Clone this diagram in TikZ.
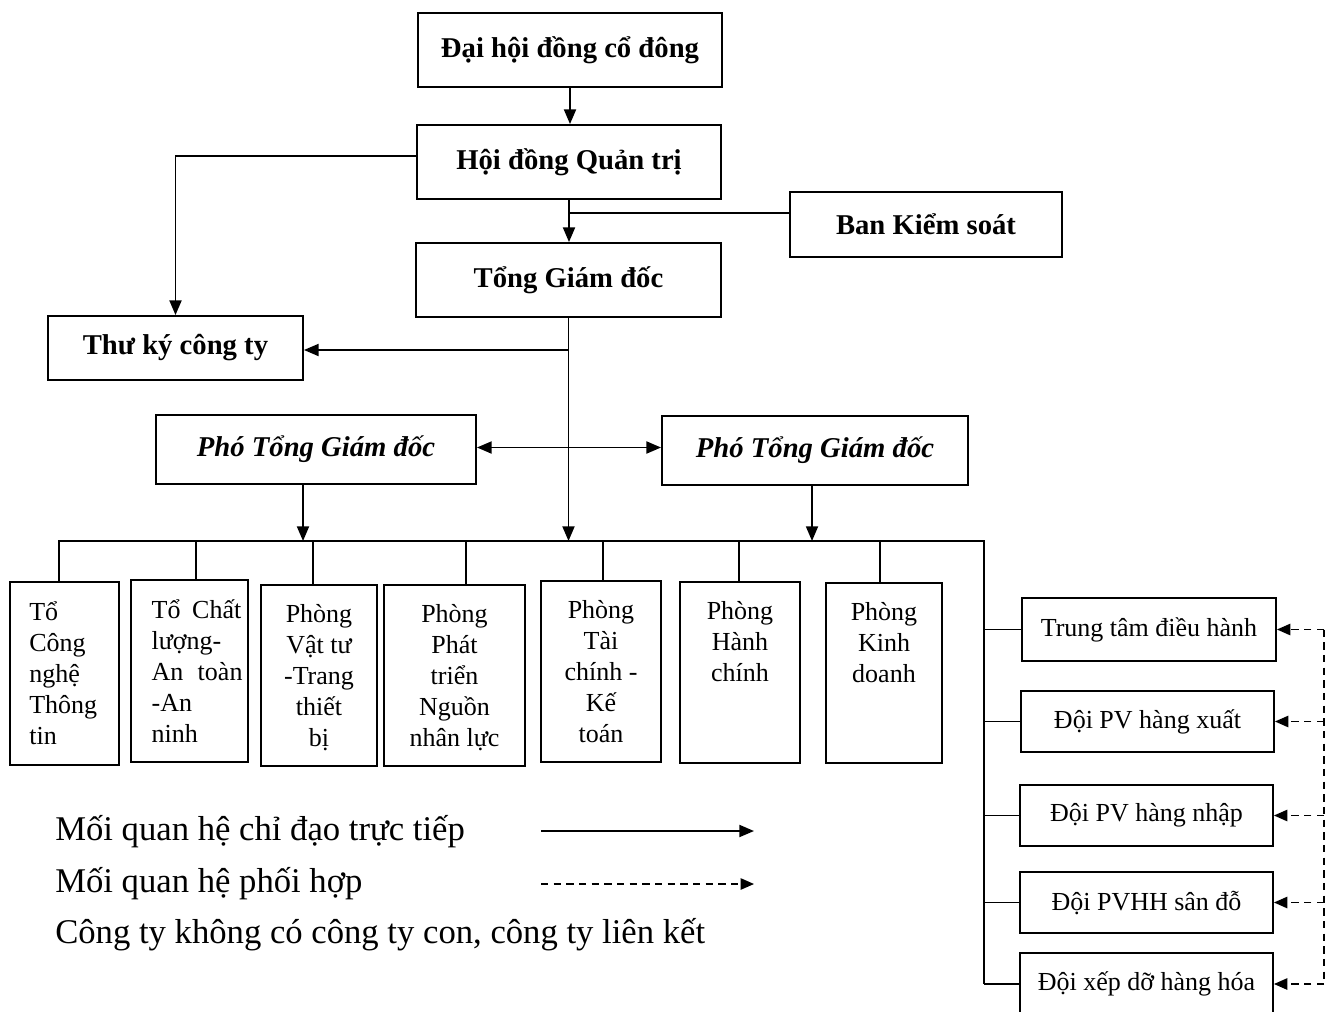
\documentclass[tikz,border=0pt]{standalone}
\usepackage{fontspec}
\setmainfont{Liberation Serif}
\usetikzlibrary{arrows.meta,calc}
\begin{document}
\begin{tikzpicture}[x=0.75pt,y=-0.75pt,
  sz/.style 2 args={minimum width=#1*0.75pt, minimum height=#2*0.75pt},
  box/.style={draw, line width=1.4pt, inner sep=0pt, align=center},
  bold/.style={font=\fontsize{21.5}{26}\selectfont\bfseries},
  bolditalic/.style={font=\fontsize{21.5}{26}\selectfont\bfseries\itshape},
  dtxt/.style={font=\fontsize{19.5}{23.25}\selectfont, inner sep=0pt},
  dlbl/.style={dtxt, align=center, anchor=north, yshift=-15pt},
  legend/.style={font=\fontsize{26}{30}\selectfont, inner sep=0pt, anchor=west},
  conn/.style={line width=1.4pt},
  arr/.style={conn, -{Triangle[length=11pt,width=9pt]}},
  darr/.style={conn, {Triangle[length=11pt,width=9pt]}-{Triangle[length=11pt,width=9pt]}},
  dsh/.style={line width=1.1pt, dash pattern=on 5.5pt off 4pt},
  dsharr/.style={dsh, -{Triangle[length=10pt,width=8.5pt]}}
]
\useasboundingbox (0,0) rectangle (1333,1012);

% top hierarchy
\node[box,bold,sz={304}{74}] (dh) at (570,50) {Đại hội đồng cổ đông};
\node[box,bold,sz={304}{74}] (hd) at (569,162) {Hội đồng Quản trị};
\node[box,bold,sz={272}{65}] (bks) at (926,224.5) {Ban Kiểm soát};
\node[box,bold,sz={305}{74}] (tgd) at (568.5,280) {Tổng Giám đốc};
\node[box,bold,sz={255}{64}] (tk) at (175.5,348) {Thư ký công ty};
\node[box,bolditalic,sz={320}{69}] (pl) at (316,449.5) {Phó Tổng Giám đốc};
\node[box,bolditalic,sz={306}{69}] (pr) at (815,450.5) {Phó Tổng Giám đốc};

% departments
\node[box,sz={109}{183},label={[dtxt,align=left,anchor=north west,xshift=15pt,yshift=-15pt]north west:Tổ\\Công\\nghệ\\Thông\\tin}] (b1) at (64.5,673.5) {};
\node[box,sz={117}{182},label={[dtxt,align=left,anchor=north west,xshift=16pt,yshift=-15pt]north west:Tổ\hspace{0.45em}Chất\\lượng-\\An\hspace{0.55em}toàn\\-An\\ninh}] (b2) at (189.5,671) {};
\node[box,sz={116}{181},label={[dlbl]north:Phòng\\Vật tư\\-Trang\\thiết\\bị}] (b3) at (319,675.5) {};
\node[box,sz={141}{181},label={[dlbl]north:Phòng\\Phát\\triển\\Nguồn\\nhân lực}] (b4) at (454.5,675.5) {};
\node[box,sz={120}{181},label={[dlbl]north:Phòng\\Tài\\chính -\\Kế\\toán}] (b5) at (601,671.5) {};
\node[box,sz={120}{181},label={[dlbl]north:Phòng\\Hành\\chính}] (b6) at (740,672.5) {};
\node[box,sz={116}{180},label={[dlbl]north:Phòng\\Kinh\\doanh}] (b7) at (884,673) {};

% right units
\node[box,dtxt,sz={254}{63}] (r1) at (1149,629.5) {Trung tâm điều hành};
\node[box,dtxt,sz={253}{61}] (r2) at (1147.5,721.5) {Đội PV hàng xuất};
\node[box,dtxt,sz={253}{61}] (r3) at (1146.5,815.5) {Đội PV hàng nhập};
\node[box,dtxt,sz={253}{61}] (r4) at (1146.5,902.5) {Đội PVHH sân đỗ};
\node[box,dtxt,sz={253}{62}] (r5) at (1146.5,984) {Đội xếp dỡ hàng hóa};

% coordinates
\coordinate (busL) at (59,541);
\coordinate (busR) at (984,541);
\coordinate (jb) at (569,213);
\coordinate (dv) at (1324,0);

% connectors top
\draw[arr] (dh.south) -- (dh.south |- hd.north);
\draw[arr] ($(hd.west)+(0,-6)$) -| (tk.north);
\draw[arr] (hd.south) -- (hd.south |- tgd.north);
\draw[conn] (jb) -- (jb -| bks.west);
\draw[arr] (tgd.south) -- (tgd.south |- busL);
\draw[arr] ($(tgd.south |- tk.east)+(0,2)$) -- ($(tk.east)+(0,2)$);
\draw[darr] ($(pl.east)+(0,-2)$) -- ($(pl.east -| pr.west)+(0,-2)$);
\draw[arr] ($(pl.south)+(-13,0)$) -- ($(pl.south |- busL)+(-13,0)$);
\draw[arr] ($(pr.south)+(-3,0)$) -- ($(pr.south |- busL)+(-3,0)$);

% bus
\draw[conn] (busL |- b1.north) -- (busL) -- (busR) -- (busR |- r5.west);
\draw[conn] ($(b2.north |- busL)+(6.5,0)$) -- ($(b2.north)+(6.5,0)$);
\draw[conn] ($(b3.north |- busL)+(-6,0)$) -- ($(b3.north)+(-6,0)$);
\draw[conn] ($(b4.north |- busL)+(11.5,0)$) -- ($(b4.north)+(11.5,0)$);
\draw[conn] ($(b5.north |- busL)+(2,0)$) -- ($(b5.north)+(2,0)$);
\draw[conn] ($(b6.north |- busL)+(-1,0)$) -- ($(b6.north)+(-1,0)$);
\draw[conn] ($(b7.north |- busL)+(-4,0)$) -- ($(b7.north)+(-4,0)$);
\foreach \r in {r1,r2,r3,r4,r5} {
  \draw[conn] (busR |- \r.west) -- (\r.west);
}

% dashed coordination
\draw[dsh] (dv |- r1.east) -- (dv |- r5.east);
\foreach \r in {r1,r2,r3,r4,r5} {
  \draw[dsharr] (dv |- \r.east) -- (\r.east);
}

% legend
\node[legend] (l1) at (55,832) {Mối quan hệ chỉ đạo trực tiếp};
\node[legend] (l2) at (55,884) {Mối quan hệ phối hợp};
\node[legend] (l3) at (55,935) {Công ty không có công ty con, công ty liên kết};
\coordinate (a1s) at (541,831);
\coordinate (a1e) at (754,831);
\coordinate (a2s) at (541,884);
\coordinate (a2e) at (754,884);
\draw[arr] (a1s) -- (a1e);
\draw[dsharr] (a2s) -- (a2e);
\end{tikzpicture}
\end{document}
